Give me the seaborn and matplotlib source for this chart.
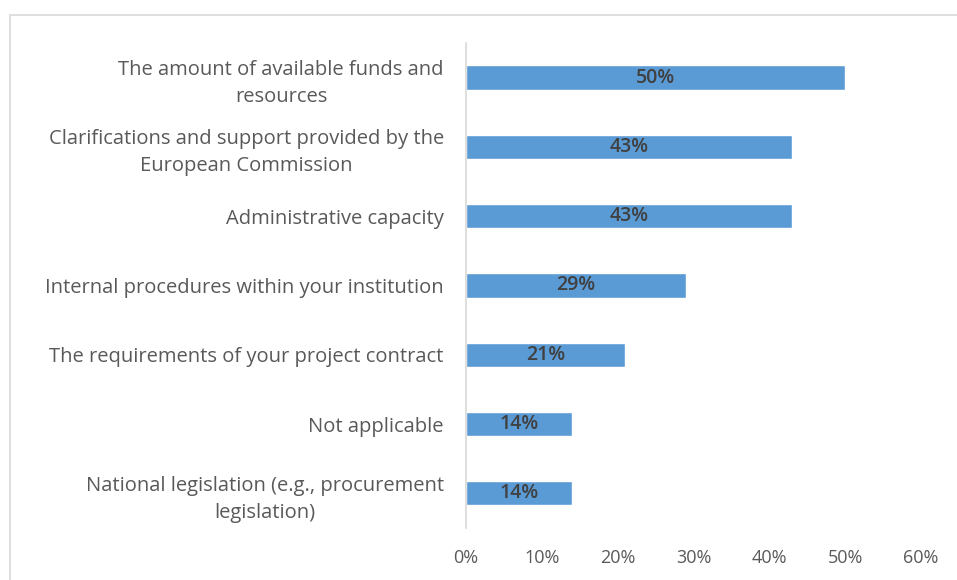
import matplotlib
matplotlib.use('Agg')
import matplotlib.pyplot as plt
import seaborn as sns
import pandas as pd
from matplotlib.patches import Rectangle
from matplotlib.ticker import PercentFormatter

categories = [
    'The amount of available funds and\nresources',
    'Clarifications and support provided by the\nEuropean Commission',
    'Administrative capacity',
    'Internal procedures within your institution',
    'The requirements of your project contract',
    'Not applicable',
    'National legislation (e.g., procurement\nlegislation)',
]
values = [50, 43, 43, 29, 21, 14, 14]
x_ticks = [0, 10, 20, 30, 40, 50, 60]

df = pd.DataFrame({'factor': categories, 'share': values})

sns.set_style('white')
plt.rcParams['font.family'] = ['Open Sans', 'DejaVu Sans']

fig = plt.figure(figsize=(9.57, 5.80), dpi=100)
ax = fig.add_axes([0.487, 0.0897, 0.4755, 0.8363])

sns.barplot(data=df, x='share', y='factor', orient='h', color='#5B9BD5',
            saturation=1, width=0.35, ax=ax)

# value labels in the bar middle
for c in ax.containers:
    ax.bar_label(c, labels=[f'{v}%' for v in values], label_type='center',
                 color='#404040', fontsize=14, fontweight='semibold')

ax.set_xlim(0, 60)
ax.set_ylim(6.5, -0.5)
ax.set_xticks(x_ticks)
ax.xaxis.set_major_formatter(PercentFormatter(decimals=0))
ax.set_xlabel('')
ax.set_ylabel('')
ax.tick_params(axis='x', length=0, pad=15, labelsize=13, labelcolor='#595959')
ax.tick_params(axis='y', length=0, pad=16, labelsize=14.5, labelcolor='#595959')
for lab in ax.get_yticklabels():
    lab.set_multialignment('center')
    lab.set_linespacing(1.45)

for s in ['top', 'right', 'bottom']:
    ax.spines[s].set_visible(False)
ax.spines['left'].set_color('#D9D9D9')
ax.spines['left'].set_linewidth(1.2)

# chart area border (partly cropped in the original)
fig.patches.append(Rectangle((10 / 957, -0.1), 1.2, 1 - 15 / 580 + 0.1,
                             transform=fig.transFigure, fill=False,
                             edgecolor='#D9D9D9', linewidth=1.2))

plt.savefig('out.png', dpi=100)
